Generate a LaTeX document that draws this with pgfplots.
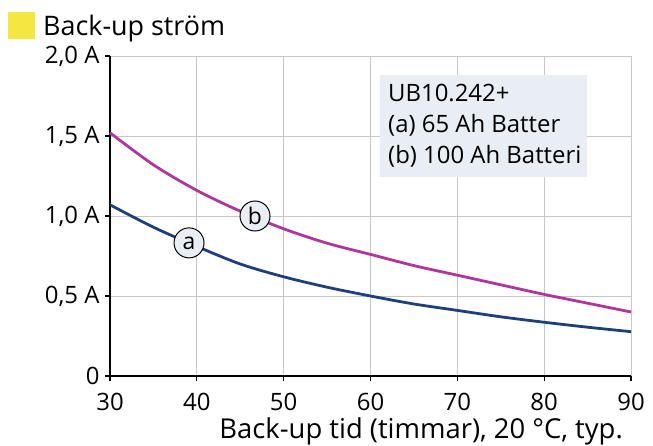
\documentclass[border=0pt]{standalone}
\usepackage{pgfplots}
\pgfplotsset{compat=1.18}
\usepackage{fontspec}
\setmainfont{Open Sans}

\definecolor{curvea}{HTML}{1F3F7A}
\definecolor{curveb}{HTML}{B0359C}
\definecolor{boxfill}{HTML}{E8EEF3}
\definecolor{titleyellow}{HTML}{F5E642}

\newcommand{\tickfont}{\fontsize{24}{26}\selectfont}

\begin{document}
\begin{tikzpicture}
\path[use as bounding box] (-110bp,-70bp) rectangle (543bp,376bp);

\begin{axis}[
    at={(0,0)}, anchor=south west,
    scale only axis,
    width=521bp, height=320bp,
    xmin=30, xmax=90, ymin=0, ymax=2,
    xtick={30,40,...,90},
    ytick={0,0.5,1,1.5,2},
    yticklabels={0,{0,5 A},{1,0 A},{1,5 A},{2,0 A}},
    axis x line*=bottom, axis y line*=left,
    axis line style={line width=1.3pt},
    grid=major,
    grid style={black!22, line width=0.7pt},
    tick align=outside,
    major tick length=5bp,
    tick style={black, line width=1.2pt},
    ticklabel style={font=\tickfont},
    xticklabel style={yshift=-9bp},
    yticklabel style={xshift=-2bp},
    /pgf/number format/assume math mode=true,
    clip=false,
]

\addplot[curveb, line width=2.8pt, smooth] coordinates {
    (30,1.52) (35,1.32) (40,1.16) (45,1.03) (50,0.92) (55,0.83) (60,0.76)
    (65,0.69) (70,0.63) (75,0.57) (80,0.51) (85,0.455) (90,0.40)
};

\addplot[curvea, line width=2.8pt, smooth] coordinates {
    (30,1.07) (35,0.93) (40,0.81) (45,0.70) (50,0.62) (55,0.555) (60,0.50)
    (65,0.45) (70,0.41) (75,0.37) (80,0.336) (85,0.305) (90,0.277)
};

\node[circle, draw=black, line width=1pt, fill=boxfill, minimum size=30bp, inner sep=0pt,
      font=\fontsize{23}{23}\selectfont] at (axis cs:39.1,0.832) {a};
\node[circle, draw=black, line width=1pt, fill=boxfill, minimum size=30bp, inner sep=0pt,
      font=\fontsize{23}{23}\selectfont] at (axis cs:46.7,1.0) {b};

\end{axis}

% legend box
\fill[boxfill] (270bp,199bp) rectangle (477bp,301bp);
\begin{scope}[every node/.style={anchor=base west, inner sep=0pt, font=\fontsize{24}{24}\selectfont}]
\node at (278bp,274bp) {UB10.242+};
\node at (278bp,243bp) {(a) 65 Ah Batter};
\node at (278bp,212bp) {(b) 100 Ah Batteri};
\end{scope}

% title
\fill[titleyellow] (-102bp,337bp) rectangle (-75bp,364bp);
\node[anchor=base west, inner sep=0pt, font=\fontsize{27}{27}\selectfont]
    at (-67bp,340bp) {Back-up ström};

% x label
\node[anchor=base east, inner sep=0pt, font=\fontsize{27.5}{27.5}\selectfont]
    at (513bp,-62bp) {Back-up tid (timmar), 20 °C, typ.};
\end{tikzpicture}
\end{document}
